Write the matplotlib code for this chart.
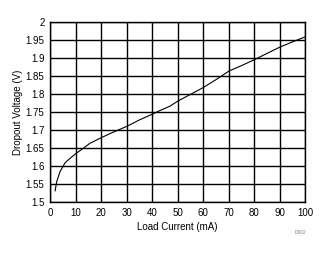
import matplotlib
matplotlib.use('Agg')
import matplotlib.pyplot as plt

plt.rcParams['font.family'] = ['Liberation Sans', 'DejaVu Sans']

# Datos
load_ma = [2.0, 2.6, 3.9, 5.9, 7.8, 10.2, 13.0, 15.6, 19.6, 23.5, 30.3, 35.0, 40.4, 43.0, 46.9,
           50.2, 55.0, 60.0, 65.0, 70.1, 75.0, 80.2, 85.0, 90.2, 95.0, 100.0]
dropout_v = [1.531, 1.556, 1.584, 1.609, 1.621, 1.635, 1.649, 1.663, 1.677, 1.690, 1.711, 1.728, 1.745, 1.754, 1.766,
             1.781, 1.799, 1.818, 1.840, 1.864, 1.879, 1.896, 1.913, 1.931, 1.945, 1.959]

x_ticks = [0, 10, 20, 30, 40, 50, 60, 70, 80, 90, 100]
y_ticks = [1.5, 1.55, 1.6, 1.65, 1.7, 1.75, 1.8, 1.85, 1.9, 1.95, 2]
y_labels = ['1.5', '1.55', '1.6', '1.65', '1.7', '1.75', '1.8', '1.85', '1.9', '1.95', '2']

fig = plt.figure(figsize=(3.34, 2.54), dpi=100)
ax = fig.add_axes([50 / 334, 1 - 202 / 254, 255.5 / 334, 180 / 254])

ax.plot(load_ma, dropout_v, color='black', linewidth=0.8)

ax.set_xlim(0, 100)
ax.set_ylim(1.5, 2)
ax.set_xticks(x_ticks)
ax.set_yticks(y_ticks)
ax.set_yticklabels(y_labels)
ax.tick_params(length=0, labelsize=7, pad=4)
ax.grid(True, color='black', linewidth=1.0)
for s in ax.spines.values():
    s.set_linewidth(1.0)

ax.set_xlabel('Load Current (mA)', fontsize=7, labelpad=3)
ax.set_ylabel('Dropout Voltage (V)', fontsize=7, labelpad=2)

fig.text(306 / 334, 1 - 233 / 254, 'D002', fontsize=3.5, color='gray', ha='right', va='center')

plt.savefig('out.png', dpi=100)
